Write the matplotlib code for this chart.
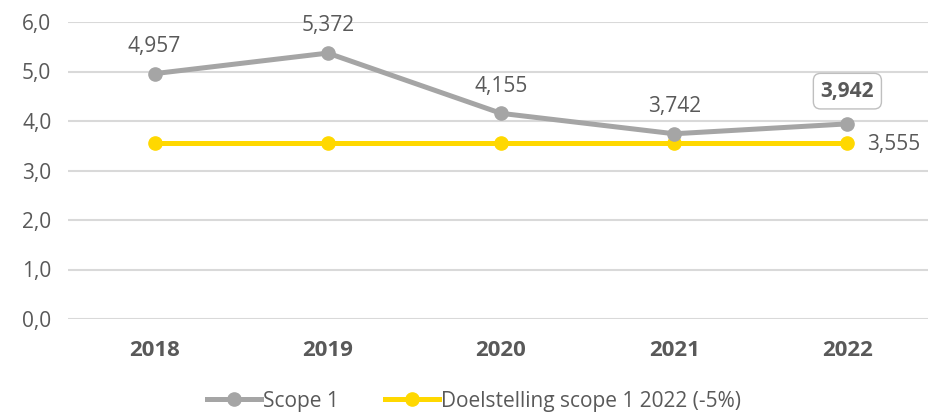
import numpy as np
import matplotlib.pyplot as plt
from matplotlib.lines import Line2D

years = ['2018', '2019', '2020', '2021', '2022']
scope1 = [4.957, 5.372, 4.155, 3.742, 3.942]
target = [3.555, 3.555, 3.555, 3.555, 3.555]
series_names = ['Scope 1', 'Doelstelling scope 1 2022 (-5%)']

gray = '#A5A5A5'
yellow = '#FFD800'
txt = '#595959'

plt.rcParams['font.family'] = ['Open Sans', 'DejaVu Sans']

fig = plt.figure(figsize=(9.29, 4.12), dpi=100)
ax = fig.add_axes([68 / 929, 1 - 319 / 412, 866 / 929, (319 - 22) / 412])

x = np.arange(len(years))
ax.plot(x, target, color=yellow, lw=3.6, marker='o', ms=9.5, zorder=3, clip_on=False)
ax.plot(x, scope1, color=gray, lw=3.6, marker='o', ms=9.5, zorder=4, clip_on=False)

def fmt(v):
    return f'{v:.3f}'.replace('.', ',')

fs = 15
for i, v in enumerate(scope1[:-1]):
    ax.annotate(fmt(v), (x[i], v), xytext=(0, 12), textcoords='offset points',
                ha='center', va='bottom', fontsize=fs, color=txt)
ax.annotate(fmt(scope1[-1]), (x[-1], scope1[-1]), xytext=(0, 16), textcoords='offset points',
            ha='center', va='bottom', fontsize=fs, color=txt, fontweight='bold',
            bbox=dict(boxstyle='round,pad=0.35', fc='white', ec='#BFBFBF', lw=1))
ax.annotate(fmt(target[-1]), (x[-1], target[-1]), xytext=(14, -1), textcoords='offset points',
            ha='left', va='center', fontsize=fs, color=txt)

ax.set_ylim(0, 6)
ax.set_xlim(-0.5, len(years) - 0.5)
ax.set_yticks(np.arange(0, 7, 1))
ax.set_yticklabels([f'{v:.1f}'.replace('.', ',') for v in np.arange(0, 7, 1)])
ax.set_xticks(x)
ax.set_xticklabels(years, fontweight='bold')
ax.tick_params(axis='y', length=0, labelsize=fs, labelcolor=txt, pad=12)
ax.tick_params(axis='x', length=0, labelsize=16, labelcolor=txt, pad=15)
ax.grid(axis='y', color='#D9D9D9', lw=1.5)
ax.set_axisbelow(True)
for s in ax.spines.values():
    s.set_visible(False)

handles = [Line2D([], [], color=gray, lw=3.6, marker='o', ms=9.5),
           Line2D([], [], color=yellow, lw=3.6, marker='o', ms=9.5)]
leg = fig.legend(handles, series_names, loc='center', bbox_to_anchor=(0.51, 1 - 401 / 412),
                 ncol=2, frameon=False, fontsize=fs, handlelength=2.6, handletextpad=0.1,
                 columnspacing=2.2)
for t in leg.get_texts():
    t.set_color(txt)

fig.savefig('out.png', dpi=100)
